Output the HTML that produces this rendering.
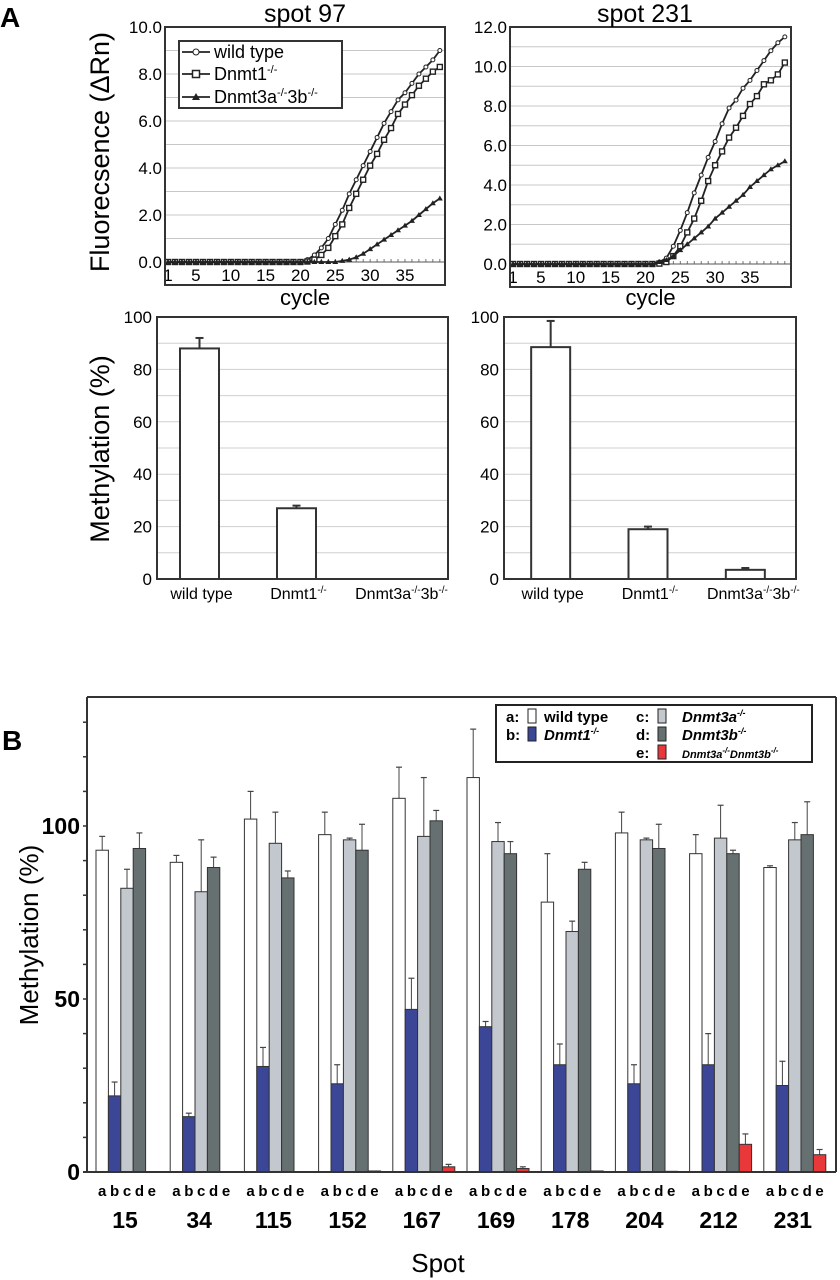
<!DOCTYPE html>
<html><head><meta charset="utf-8"><style>
html,body{margin:0;padding:0;background:#fff;}
svg{display:block;font-family:"Liberation Sans",Arial,sans-serif;}
</style></head><body>
<svg id="fig" width="840" height="1280" viewBox="0 0 840 1280" xmlns="http://www.w3.org/2000/svg">
<text x="0" y="27" font-size="28" font-weight="bold">A</text>
<text x="2" y="750" font-size="28" font-weight="bold">B</text>
<text transform="translate(109,152) rotate(-90)" text-anchor="middle" font-size="27">Fluorecsence (ΔRn)</text>
<text transform="translate(109,449) rotate(-90)" text-anchor="middle" font-size="27">Methylation (%)</text>
<text transform="translate(38,935) rotate(-90)" text-anchor="middle" font-size="26">Methylation (%)</text>
<text x="438" y="1272" text-anchor="middle" font-size="26">Spot</text>
<g id="g"></g>
</svg>
<script>
// ---------- data ----------
const cycles = [1,2,3,4,5,6,7,8,9,10,11,12,13,14,15,16,17,18,19,20,21,22,23,24,25,26,27,28,29,30,31,32,33,34,35,36,37,38,39,40];
const s97_wt   = [0,0,0,0,0,0,0,0,0,0,0,0,0,0,0,0,0,0,0,0.02,0.1,0.3,0.6,1.0,1.6,2.2,2.9,3.5,4.1,4.7,5.3,5.9,6.4,6.9,7.2,7.6,8.0,8.3,8.6,9.0];
const s97_d1   = [0,0,0,0,0,0,0,0,0,0,0,0,0,0,0,0,0,0,0,0,0.02,0.1,0.3,0.6,1.1,1.6,2.3,2.9,3.5,4.1,4.6,5.2,5.7,6.3,6.7,7.1,7.5,7.8,8.1,8.3];
const s97_d3   = [0,0,0,0,0,0,0,0,0,0,0,0,0,0,0,0,0,0,0,0,0,0,0,0,0,0.05,0.1,0.2,0.35,0.55,0.75,0.95,1.15,1.35,1.55,1.75,2.0,2.25,2.5,2.7];
const s231_wt  = [0,0,0,0,0,0,0,0,0,0,0,0,0,0,0,0,0,0,0,0,0.02,0.1,0.3,0.9,1.7,2.6,3.6,4.5,5.4,6.2,7.1,7.9,8.3,8.9,9.3,9.8,10.3,10.8,11.2,11.5];
const s231_d1  = [0,0,0,0,0,0,0,0,0,0,0,0,0,0,0,0,0,0,0,0,0,0.02,0.1,0.4,0.9,1.6,2.3,3.2,4.2,5.0,5.7,6.4,6.9,7.5,8.1,8.5,9.1,9.3,9.6,10.2];
const s231_d3  = [0,0,0,0,0,0,0,0,0,0,0,0,0,0,0,0,0,0,0,0,0,0.1,0.2,0.4,0.7,1.0,1.3,1.6,1.9,2.3,2.6,2.9,3.2,3.5,3.9,4.2,4.5,4.8,5.0,5.2];
const xTickLabels = [1,5,10,15,20,25,30,35];
const y97Ticks = ["0.0","2.0","4.0","6.0","8.0","10.0"];
const y231Ticks = ["0.0","2.0","4.0","6.0","8.0","10.0","12.0"];

const genotypes = ["wild type","Dnmt1","Dnmt3a3b"];
const meth97 = [88, 27, 0];
const meth97Err = [92, 28, 0];
const meth231 = [88.5, 19, 3.5];
const meth231Err = [98.5, 20, 4.2];
const methTicks = [0,20,40,60,80,100];

const spots = ["15","34","115","152","167","169","178","204","212","231"];
const valA = [93, 89.5, 102, 97.5, 108, 114, 78, 98, 92, 88];
const errA = [97, 91.5, 110, 104, 117, 128, 92, 104, 97.5, 88.5];
const valB = [22, 16, 30.5, 25.5, 47, 42, 31, 25.5, 31, 25];
const errB = [26, 17, 36, 31, 56, 43.5, 37, 31, 40, 32];
const valC = [82, 81, 95, 96, 97, 95.5, 69.5, 96, 96.5, 96];
const errC = [87.5, 96, 104, 96.5, 114, 101, 72.5, 96.5, 106, 101];
const valD = [93.5, 88, 85, 93, 101.5, 92, 87.5, 93.5, 92, 97.5];
const errD = [98, 91, 87, 100.5, 104.5, 95.5, 89.5, 100.5, 93, 107];
const valE = [0, 0, 0, 0.3, 1.5, 1, 0.3, 0.2, 8, 5];
const errE = [0, 0, 0, 0.3, 2.2, 1.5, 0.3, 0.2, 11, 6.5];
const bTicks = [0,50,100];

// ---------- helpers ----------
const NS="http://www.w3.org/2000/svg";
const root=document.getElementById('g');
function mk(tag,attrs,parent){const e=document.createElementNS(NS,tag);for(const k in attrs)e.setAttribute(k,attrs[k]);(parent||root).appendChild(e);return e;}

// ---------- qPCR panels ----------
function qpcr(cfg){
  const {x0,x1,y0,y1,ymax,series,ticks,title,tx,id}=cfg;
  const c1x=x0+3, step=6.97;
  const X=c=>c1x+(c-1)*step;
  const zeroY=y1-23;
  const Y=v=>zeroY-(zeroY-y0)*v/ymax;
  const g=mk('g',{});
  
  
  for(let v=1;v<=ymax;v++){const l=mk('line',{x1:x0,x2:x1,y1:Y(v),y2:Y(v),stroke:'#c8c8c8','stroke-width':1},g);
    
    }
  ticks.forEach((t,i)=>{const tt=mk('text',{x:x0-3,y:Y(parseFloat(t))+6,'text-anchor':'end','font-size':17},g);tt.textContent=t;
    
    });
  mk('line',{x1:x0,x2:x1,y1:zeroY,y2:zeroY,stroke:'#555','stroke-width':1},g);
  cycles.forEach(c=>{const l=mk('line',{x1:X(c),x2:X(c),y1:zeroY,y2:zeroY-3,stroke:'#555','stroke-width':0.8},g);
    
    });
  xTickLabels.forEach(c=>{const t=mk('text',{x:X(c),y:y1-4,'text-anchor':'middle','font-size':17},g);t.textContent=c;
    
    });
  series.forEach((s,si)=>{
    const pts=cycles.map((c,i)=>X(c)+','+Y(s[i])).join(' ');
    const pl=mk('polyline',{points:pts,fill:'none',stroke:'#222','stroke-width':1.8},g);
    
    
    cycles.forEach((c,i)=>{
      const px=X(c),py=Y(s[i]);let m;
      if(si===0)m=mk('circle',{cx:px,cy:py,r:2,fill:'#fff',stroke:'#222','stroke-width':1},g);
      else if(si===1)m=mk('rect',{x:px-2.5,y:py-2.5,width:5,height:5,fill:'#fff',stroke:'#222','stroke-width':1.4},g);
      else m=mk('polygon',{points:`${px},${py-3} ${px-3},${py+2} ${px+3},${py+2}`,fill:'#222'},g);
      
      
    });
  });
  const fr=mk('rect',{x:x0,y:y0,width:x1-x0,height:y1-y0,fill:'none',stroke:'#333','stroke-width':2},g);
  
  
  const ti=mk('text',{x:tx,y:22,'text-anchor':'middle','font-size':25},g);ti.textContent=title;
  
  
  const cx=mk('text',{x:(x0+x1)/2,y:305,'text-anchor':'middle','font-size':22},g);cx.textContent='cycle';
  
  
}
qpcr({x0:165,x1:445,y0:27,y1:285,ymax:10,series:[s97_wt,s97_d1,s97_d3],ticks:y97Ticks,title:'spot 97',tx:305,id:'spot97'});
qpcr({x0:510,x1:791,y0:27,y1:287,ymax:12,series:[s231_wt,s231_d1,s231_d3],ticks:y231Ticks,title:'spot 231',tx:645,id:'spot231'});

// legend for qPCR
(function(){
  const lg=mk('g',{});
  
  
  mk('rect',{x:179,y:41,width:163,height:67,fill:'#fff',stroke:'#333','stroke-width':2},lg);
  const ys=[52,74,97];
  const labs=['wild type','Dnmt1<tspan dy="-7" font-size="11">-/-</tspan>','Dnmt3a<tspan dy="-7" font-size="11">-/-</tspan><tspan dy="7">3b</tspan><tspan dy="-7" font-size="11">-/-</tspan>'];
  ys.forEach((y,i)=>{
    mk('line',{x1:182,x2:210,y1:y,y2:y,stroke:'#222','stroke-width':1.8},lg);
    if(i===0)mk('circle',{cx:196,cy:y,r:3,fill:'#fff',stroke:'#222'},lg);
    else if(i===1)mk('rect',{x:192.5,y:y-3.5,width:7,height:7,fill:'#fff',stroke:'#222','stroke-width':1.5},lg);
    else mk('polygon',{points:`196,${y-4} 192,${y+3} 200,${y+3}`,fill:'#222'},lg);
    const t=mk('text',{x:214,y:y+6,'font-size':18},lg);t.innerHTML=labs[i];
    
    
  });
})();

// ---------- methylation bar charts (A) ----------
function methBar(cfg){
  const {x0,x1,vals,errs,id}=cfg;
  const y0=317,y1=579;
  const Y=v=>y1-(y1-y0)*v/100;
  const cw=(x1-x0)/3;
  const cx=i=>x0+cw*(i+0.5)-(id==='spot97'?6:2);
  const g=mk('g',{});
  
  
  for(let v=10;v<100;v+=10){const l=mk('line',{x1:x0,x2:x1,y1:Y(v),y2:Y(v),stroke:'#cfcfcf','stroke-width':1},g);
    
    }
  methTicks.forEach(v=>{const t=mk('text',{x:x0-5,y:Y(v)+6,'text-anchor':'end','font-size':17},g);t.textContent=v;
    
    });
  vals.forEach((v,i)=>{
    const bx=cx(i)-19.5;
    if(errs[i]>v){const e1=mk('line',{x1:cx(i),x2:cx(i),y1:Y(v),y2:Y(errs[i]),stroke:'#333','stroke-width':2},g);
      
      
      mk('line',{x1:cx(i)-4,x2:cx(i)+4,y1:Y(errs[i]),y2:Y(errs[i]),stroke:'#333','stroke-width':2},g);}
    if(v>0){const b=mk('rect',{x:bx,y:Y(v),width:39,height:Y(0)-Y(v),fill:'#fff',stroke:'#333','stroke-width':2},g);
      
      }
  });
  const labs=['wild type','Dnmt1<tspan dy="-6" font-size="10">-/-</tspan>','Dnmt3a<tspan dy="-6" font-size="10">-/-</tspan><tspan dy="6">3b</tspan><tspan dy="-6" font-size="10">-/-</tspan>'];
  labs.forEach((l,i)=>{const t=mk('text',{x:cx(i)+(i===2?8:2),y:599,'text-anchor':'middle','font-size':16},g);t.innerHTML=l;
    
    });
  const fr=mk('rect',{x:x0,y:y0,width:x1-x0,height:y1-y0,fill:'none',stroke:'#333','stroke-width':2},g);
  
  
}
methBar({x0:157,x1:448,vals:meth97,errs:meth97Err,id:'spot97'});
methBar({x0:504,x1:796,vals:meth231,errs:meth231Err,id:'spot231'});

// ---------- panel B ----------
(function(){
  const x0=87,x1=836,top=697,zero=1172,ppu=3.46;
  const Y=v=>zero-v*ppu;
  const bw=12.4;
  const gc=i=>127+i*74.2;
  const g=mk('g',{});
  
  
  mk('line',{x1:x0,x2:x1,y1:top,y2:top,stroke:'#333','stroke-width':2},g);
  mk('line',{x1:x0,x2:x0,y1:top,y2:zero,stroke:'#333','stroke-width':2},g);
  mk('line',{x1:x1,x2:x1,y1:top,y2:zero,stroke:'#333','stroke-width':2},g);
  for(let v=0;v<=130;v+=10){const l=mk('line',{x1:x0-4,x2:x0,y1:Y(v),y2:Y(v),stroke:'#333','stroke-width':1.5},g);
    
    }
  bTicks.forEach(v=>{const t=mk('text',{x:x0-7,y:Y(v)+8,'text-anchor':'end','font-size':23,'font-weight':'bold'},g);t.textContent=v;
    
    });
  const series=[[valA,errA,'#ffffff','a'],[valB,errB,'#3b4697','b'],[valC,errC,'#c3c7ce','c'],[valD,errD,'#667070','d'],[valE,errE,'#e8383a','e']];
  spots.forEach((s,i)=>{
    series.forEach(([vals,errs,col,k],j)=>{
      const bx=gc(i)-2.5*bw+j*bw, cx=bx+bw/2, v=vals[i], e=errs[i];
      if(e>v){const el=mk('line',{x1:cx,x2:cx,y1:Y(v),y2:Y(e),stroke:'#444','stroke-width':1},g);
        
        
        mk('line',{x1:cx-3,x2:cx+3,y1:Y(e),y2:Y(e),stroke:'#444','stroke-width':1.2},g);}
      if(v>0){const b=mk('rect',{x:bx,y:Y(v),width:bw,height:v*ppu,fill:col,stroke:'#333','stroke-width':1},g);
        
        }
      const lt=mk('text',{x:cx,y:1196,'text-anchor':'middle','font-size':15,'font-weight':'bold'},g);lt.textContent=k;
      
      
    });
    const st=mk('text',{x:gc(i)-2,y:1228,'text-anchor':'middle','font-size':23,'font-weight':'bold'},g);st.textContent=s;
    
    
  });
  mk('line',{x1:x0-4,x2:x1,y1:zero,y2:zero,stroke:'#333','stroke-width':2},g);
  // legend
  const lg=mk('g',{});
  
  
  mk('rect',{x:496,y:705,width:316,height:57,fill:'#fff',stroke:'#222','stroke-width':2},lg);
  const ent=[[506,722,'a:','#ffffff','wild type',false],[506,740,'b:','#3b4697','Dnmt1',true],[636,722,'c:','#c3c7ce','Dnmt3a',true],[636,740,'d:','#667070','Dnmt3b',true],[636,758,'e:','#e8383a','Dnmt3a-/-Dnmt3b',true]];
  ent.forEach(([x,y,k,col,lab,it],i)=>{
    const kt=mk('text',{x:x,y:y,'font-size':15,'font-weight':'bold'},lg);kt.textContent=k;
    mk('rect',{x:x+22,y:y-13,width:8,height:14,fill:col,stroke:'#222','stroke-width':1},lg);
    const t=mk('text',{x:x+(i===0?38:(i<2?38:46)),y:y,'font-size':i===4?11:15,'font-weight':'bold','font-style':it?'italic':'normal'},lg);
    if(i===4)t.innerHTML='Dnmt3a<tspan dy="-5" font-size="8">-/-</tspan><tspan dy="5">Dnmt3b</tspan><tspan dy="-5" font-size="8">-/-</tspan>';
    else t.innerHTML=lab+(it?'<tspan dy="-6" font-size="9">-/-</tspan>':'');
    
    
  });
})();
</script>
</body></html>
